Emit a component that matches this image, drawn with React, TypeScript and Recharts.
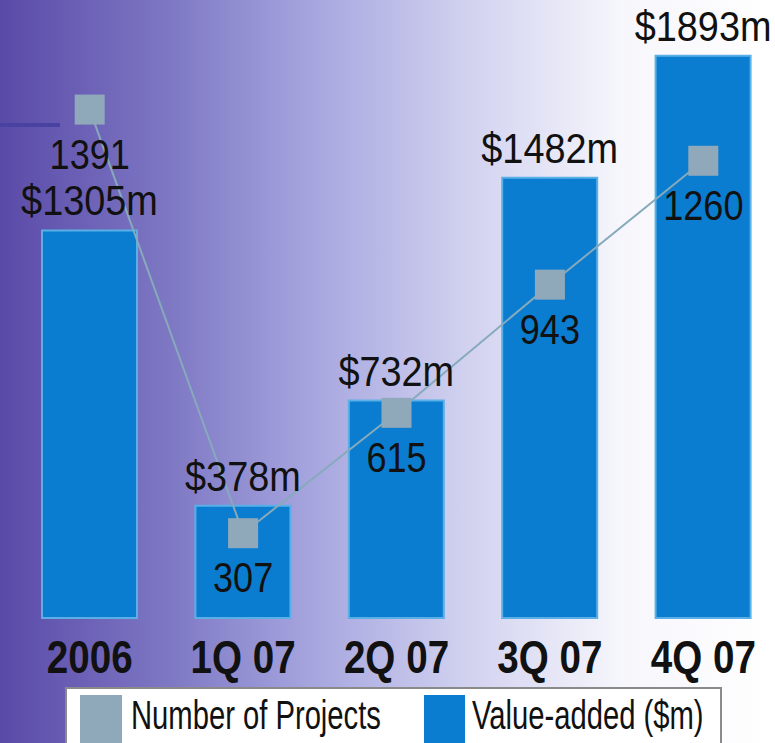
import { ComposedChart, Bar, Line, XAxis, YAxis, LabelList } from "recharts";

const periods = ["2006", "1Q 07", "2Q 07", "3Q 07", "4Q 07"];
const valueAdded = [1305, 378, 732, 1482, 1893];
const projects = [1391, 307, 615, 943, 1260];

const FONT = "'Liberation Sans', Arial, sans-serif";
const BAR_COLOR = "#0a7dd0";
const MARKER_COLOR = "#8fa9bb";

const data = periods.map((p, i) => ({
  period: p,
  value: valueAdded[i],
  projects: projects[i],
}));

// squeezed text, the source uses a narrow face
const Narrow = ({ x, y, children, size = 42, bold = false, sx = 0.86 }: any) => (
  <text
    transform={`translate(${x},${y}) scale(${sx},1)`}
    x={0}
    y={0}
    textAnchor="middle"
    fontFamily={FONT}
    fontSize={size}
    fontWeight={bold ? "bold" : "normal"}
    fill="#111"
  >
    {children}
  </text>
);

const PeriodTick = ({ x, y, payload }: any) => (
  <Narrow x={x} y={y + 47} size={46} bold sx={0.84}>
    {payload.value}
  </Narrow>
);

const ValueLabel = ({ x, y, width, value }: any) => (
  <Narrow x={x + width / 2} y={y - 15} size={43} sx={0.88}>
    ${value}m
  </Narrow>
);

const ProjectLabel = ({ x, y, value }: any) => (
  <Narrow x={x} y={y + 59} size={43} sx={0.84}>
    {value}
  </Narrow>
);

const SquareDot = ({ cx, cy }: any) => (
  <rect x={cx - 15} y={cy - 15} width={30} height={30} fill={MARKER_COLOR} />
);

const legendText = {
  position: "absolute" as const,
  top: 695,
  fontFamily: FONT,
  fontSize: 40,
  lineHeight: "40px",
  color: "#111",
  whiteSpace: "nowrap" as const,
  transform: "scaleX(0.73)",
  transformOrigin: "left",
};

export default function App() {
  return (
    <div
      style={{
        position: "absolute",
        left: 0,
        top: 0,
        width: 775,
        height: 743,
        overflow: "hidden",
        background:
          "linear-gradient(to right, #5a4aa8 0px, #7e78c4 170px, #a8a8e0 320px, #d2d2f0 470px, #f6f6fc 620px, #ffffff 775px)",
      }}
    >
      <div style={{ position: "absolute", left: 0, top: 123, width: 60, height: 4, background: "#4a42a0" }} />
      <ComposedChart
        width={790}
        height={690}
        data={data}
        margin={{ top: 24, right: 10, left: 13, bottom: 10 }}
      >
        <XAxis dataKey="period" height={62} axisLine={false} tickLine={false} tick={<PeriodTick />} interval={0} />
        <YAxis yAxisId="value" hide domain={[0, 2000]} />
        <YAxis yAxisId="projects" hide orientation="right" domain={[90, 1610]} allowDataOverflow />
        <Bar
          yAxisId="value"
          dataKey="value"
          barSize={95}
          fill={BAR_COLOR}
          stroke="#5ab0e6"
          strokeWidth={2}
          isAnimationActive={false}
        >
          <LabelList dataKey="value" content={<ValueLabel />} />
        </Bar>
        <Line
          yAxisId="projects"
          type="linear"
          dataKey="projects"
          stroke="#86aabb"
          strokeWidth={2}
          dot={<SquareDot />}
          activeDot={false}
          isAnimationActive={false}
        >
          <LabelList dataKey="projects" content={<ProjectLabel />} />
        </Line>
      </ComposedChart>
      <div
        style={{
          position: "absolute",
          left: 65,
          top: 687,
          width: 653,
          height: 70,
          background: "#fff",
          border: "2px solid #8a8a8a",
        }}
      />
      <div style={{ position: "absolute", left: 80, top: 695, width: 42, height: 60, background: MARKER_COLOR }} />
      <span style={{ ...legendText, left: 131 }}>Number of Projects</span>
      <div style={{ position: "absolute", left: 424, top: 695, width: 41, height: 60, background: BAR_COLOR }} />
      <span style={{ ...legendText, left: 472 }}>Value-added ($m)</span>
    </div>
  );
}
